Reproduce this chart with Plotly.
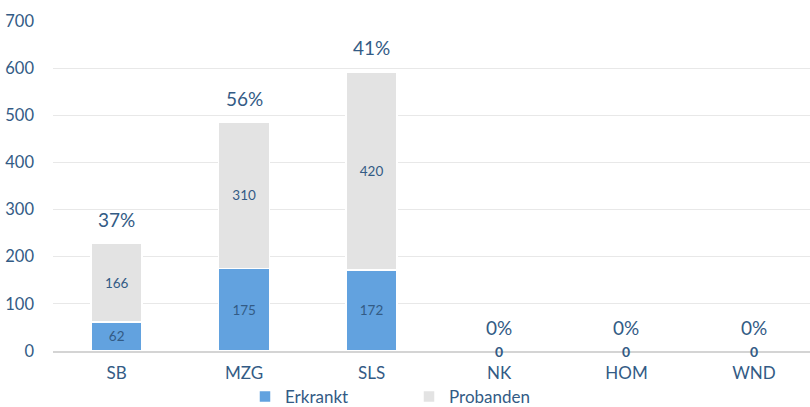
import plotly.graph_objects as go

categories = ["SB", "MZG", "SLS", "NK", "HOM", "WND"]
erkrankt = [62, 175, 172, 0, 0, 0]
probanden = [166, 310, 420, 0, 0, 0]
percent_labels = ["37%", "56%", "41%", "0%", "0%", "0%"]

txt_color = "#335B85"
font_family = "Lato, Liberation Sans, sans-serif"

def seg_text(vals):
    return [str(v) if v else "" for v in vals]

fig = go.Figure()
fig.add_trace(go.Bar(
    x=categories, y=erkrankt, name="Erkrankt",
    marker=dict(color="#62A2DF", line=dict(color="white", width=1.5)),
    text=seg_text(erkrankt), textposition="inside", insidetextanchor="middle",
    textfont=dict(size=13.5, color=txt_color, family=font_family),
    width=0.4, legend="legend",
))
fig.add_trace(go.Bar(
    x=categories, y=probanden, name="Probanden",
    marker=dict(color="#E3E3E3", line=dict(color="white", width=1.5)),
    text=seg_text(probanden), textposition="inside", insidetextanchor="middle",
    textfont=dict(size=13.5, color=txt_color, family=font_family),
    width=0.4, legend="legend2",
))

# zero labels at axis (both series are 0 there)
for c, e, p in zip(categories, erkrankt, probanden):
    if e + p == 0:
        fig.add_annotation(x=c, y=0, text="<b>0</b>", showarrow=False, yanchor="middle",
                           font=dict(size=14, color=txt_color, family=font_family))

totals = [e + p for e, p in zip(erkrankt, probanden)]
for c, t, lab in zip(categories, totals, percent_labels):
    fig.add_annotation(x=c, y=t, text=lab, showarrow=False, yanchor="middle", yshift=24,
                       font=dict(size=19, color=txt_color, family=font_family))

leg_common = dict(orientation="h", xref="container", yref="container", yanchor="middle",
                  font=dict(size=17, color=txt_color, family=font_family),
                  itemwidth=30, bgcolor="rgba(0,0,0,0)")
fig.update_layout(
    barmode="stack",
    width=810, height=407,
    margin=dict(l=53, r=0, t=21, b=56, autoexpand=False),
    plot_bgcolor="white", paper_bgcolor="white",
    font=dict(family=font_family, size=16, color=txt_color),
    showlegend=True,
    legend=dict(x=245 / 810, xanchor="left", y=10 / 407, **leg_common),
    legend2=dict(x=409 / 810, xanchor="left", y=10 / 407, **leg_common),
    bargap=0.6,
)
fig.update_xaxes(range=[-0.5, 5.44], showgrid=False, showline=True, linecolor="#D4D4D4",
                 linewidth=2, ticks="", ticklabelstandoff=6, tickfont=dict(size=17, color=txt_color))
fig.update_yaxes(range=[0, 700], dtick=100, showgrid=True, gridcolor="#E8E8E8", gridwidth=1,
                 zeroline=False, showline=False, ticks="", ticklabelstandoff=18,
                 tickfont=dict(size=16.5, color=txt_color))

fig.write_html("out.html", config={"displayModeBar": False},
               post_script="document.body.style.margin='0';document.body.style.overflow='hidden';")
